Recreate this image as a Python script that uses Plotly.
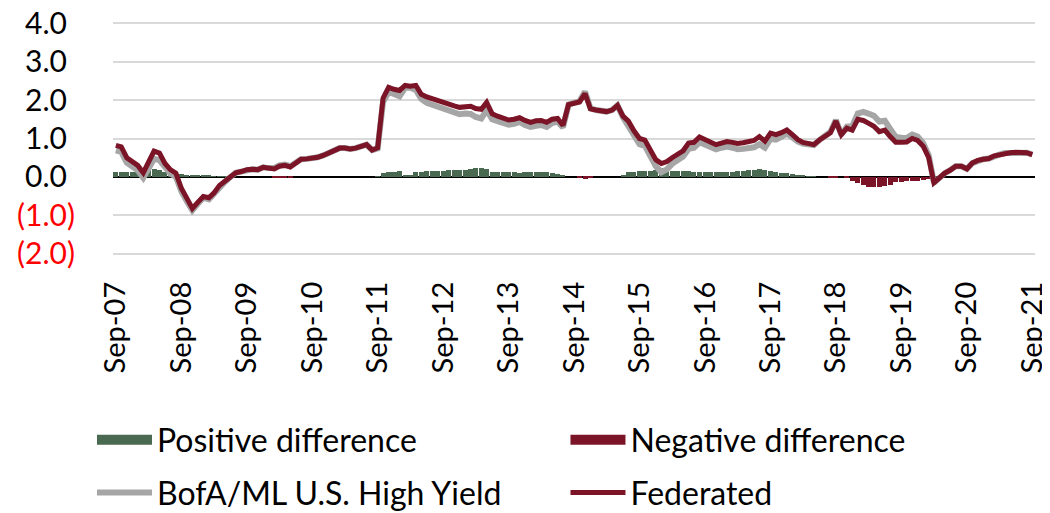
import plotly.graph_objects as go
import pandas as pd

# monthly observations, Sep-07 .. Sep-21
federated = [
    0.82, 0.78, 0.50, 0.40, 0.30, 0.11, 0.38, 0.67, 0.62, 0.35, 0.19, 0.10,
    -0.30, -0.58, -0.82, -0.66, -0.51, -0.54, -0.42, -0.22, -0.12, 0.00, 0.11, 0.14,
    0.19, 0.20, 0.19, 0.25, 0.23, 0.21, 0.28, 0.30, 0.26, 0.37, 0.46, 0.47,
    0.48, 0.51, 0.56, 0.62, 0.70, 0.75, 0.75, 0.73, 0.75, 0.78, 0.84, 0.70,
    0.76, 2.05, 2.33, 2.28, 2.25, 2.38, 2.36, 2.38, 2.15, 2.08, 2.03, 1.98,
    1.92, 1.88, 1.85, 1.81, 1.83, 1.84, 1.78, 1.76, 1.94, 1.64, 1.58, 1.53,
    1.48, 1.50, 1.54, 1.47, 1.42, 1.46, 1.47, 1.42, 1.50, 1.52, 1.34, 1.88,
    1.92, 1.95, 2.17, 1.77, 1.74, 1.72, 1.70, 1.74, 1.86, 1.58, 1.45, 1.20,
    1.00, 0.96, 0.70, 0.45, 0.35, 0.40, 0.50, 0.58, 0.68, 0.88, 0.90, 1.04,
    0.97, 0.88, 0.84, 0.88, 0.92, 0.90, 0.87, 0.89, 0.91, 0.95, 1.05, 0.93,
    1.14, 1.10, 1.15, 1.22, 1.10, 0.97, 0.90, 0.86, 0.84, 0.96, 1.05, 1.15,
    1.45, 1.10, 1.27, 1.22, 1.50, 1.47, 1.40, 1.32, 1.18, 1.22, 1.05, 0.90,
    0.90, 0.91, 1.00, 0.95, 0.80, 0.50, -0.15, 0.00, 0.10, 0.18, 0.28, 0.28,
    0.21, 0.36, 0.43, 0.46, 0.48, 0.55, 0.58, 0.62, 0.63, 0.64, 0.64, 0.63,
    0.58,
]

bofa_hy = [
    0.69, 0.65, 0.37, 0.27, 0.17, -0.02, 0.20, 0.47, 0.44, 0.23, 0.09, 0.00,
    -0.38, -0.63, -0.87, -0.70, -0.54, -0.58, -0.44, -0.24, -0.13, 0.00, 0.11, 0.14,
    0.19, 0.20, 0.19, 0.25, 0.23, 0.23, 0.30, 0.32, 0.28, 0.37, 0.46, 0.47,
    0.48, 0.51, 0.56, 0.62, 0.70, 0.75, 0.75, 0.73, 0.75, 0.78, 0.84, 0.70,
    0.74, 1.95, 2.21, 2.16, 2.10, 2.32, 2.32, 2.26, 2.03, 1.93, 1.88, 1.82,
    1.76, 1.71, 1.68, 1.63, 1.65, 1.64, 1.56, 1.52, 1.74, 1.50, 1.45, 1.41,
    1.36, 1.38, 1.43, 1.35, 1.30, 1.33, 1.35, 1.30, 1.40, 1.44, 1.29, 1.88,
    1.92, 1.97, 2.22, 1.79, 1.74, 1.72, 1.70, 1.74, 1.86, 1.55, 1.33, 1.06,
    0.85, 0.81, 0.54, 0.28, 0.12, 0.20, 0.34, 0.42, 0.53, 0.73, 0.76, 0.90,
    0.84, 0.75, 0.72, 0.76, 0.79, 0.76, 0.72, 0.73, 0.74, 0.77, 0.85, 0.76,
    0.99, 0.97, 1.04, 1.13, 1.03, 0.92, 0.87, 0.84, 0.83, 0.96, 1.05, 1.17,
    1.48, 1.10, 1.31, 1.32, 1.65, 1.69, 1.65, 1.59, 1.44, 1.46, 1.25, 1.04,
    1.02, 1.01, 1.10, 1.05, 0.88, 0.56, -0.15, 0.00, 0.10, 0.18, 0.28, 0.28,
    0.21, 0.36, 0.43, 0.46, 0.48, 0.55, 0.58, 0.62, 0.63, 0.64, 0.64, 0.63,
    0.58,
]

tick_years = list(range(2007, 2022))
y_ticks = [4, 3, 2, 1, 0, -1, -2]

dates = pd.date_range("2007-09-01", periods=len(federated), freq="MS")
diff = [f - b for f, b in zip(federated, bofa_hy)]
pos_diff = [d if d > 0 else 0 for d in diff]
neg_diff = [d if d < 0 else 0 for d in diff]

GREEN = "#4a6951"
RED = "#7b1426"
GREY = "#a6a6a6"
FONT = "Lato"
FS = 30

fig = go.Figure()
fig.add_trace(go.Bar(x=dates, y=pos_diff, showlegend=False,
                     marker=dict(color=GREEN, line=dict(width=0))))
fig.add_trace(go.Bar(x=dates, y=neg_diff, showlegend=False,
                     marker=dict(color=RED, line=dict(width=0))))
fig.add_trace(go.Scatter(x=dates, y=bofa_hy, name="BofA/ML U.S. High Yield",
                         mode="lines", line=dict(color=GREY, width=6),
                         legend="legend3"))
fig.add_trace(go.Scatter(x=dates, y=federated, name="Federated",
                         mode="lines", line=dict(color=RED, width=5),
                         legend="legend4"))
# legend keys for the bars (thick swatches)
fig.add_trace(go.Scatter(x=[None], y=[None], name="Positive difference",
                         mode="lines", line=dict(color=GREEN, width=18),
                         legend="legend"))
fig.add_trace(go.Scatter(x=[None], y=[None], name="Negative difference",
                         mode="lines", line=dict(color=RED, width=18),
                         legend="legend2"))

def ylabel(v):
    if v < 0:
        return "<span style='color:#ff0000'>(%.1f)</span>" % abs(v)
    return "%.1f<span style='color:rgba(0,0,0,0)'>)</span>" % v

leg = dict(orientation="h", xref="container", yref="container",
           xanchor="left", yanchor="middle", itemwidth=55,
           font=dict(size=32), bgcolor="rgba(0,0,0,0)")
col1, col2 = 0.0806, 0.535
row1, row2 = 0.1446, 0.040

# page body keeps an 8px margin, so the figure is 8px smaller than the window
fig.update_layout(
    width=1042, height=505,
    margin=dict(l=105, r=15, t=14, b=258),
    plot_bgcolor="white", paper_bgcolor="white",
    font=dict(family=FONT, size=FS, color="#000000"),
    barmode="relative", bargap=0,
    showlegend=True,
    legend=dict(leg, x=col1, y=row1),
    legend2=dict(leg, x=col2, y=row1),
    legend3=dict(leg, x=col1, y=row2),
    legend4=dict(leg, x=col2, y=row2),
)
fig.update_xaxes(
    type="date", automargin=False, ticklabeloverflow="allow",
    range=[pd.Timestamp("2007-08-16"), pd.Timestamp("2021-09-16")],
    tickvals=[pd.Timestamp("%d-09-01" % y) for y in tick_years],
    ticktext=["Sep-%02d" % (y % 100) for y in tick_years],
    tickangle=-90, showgrid=False, zeroline=False, showline=False,
    ticks="", ticklabelstandoff=20, tickfont=dict(size=29),
)
fig.update_yaxes(
    range=[-2.03, 4.03], automargin=False, ticklabeloverflow="allow",
    tickvals=y_ticks, ticktext=[ylabel(v) for v in y_ticks],
    showgrid=True, gridcolor="#d9d9d9", gridwidth=1.5,
    zeroline=True, zerolinecolor="#000000", zerolinewidth=1.5,
    ticks="", ticklabelstandoff=37, tickfont=dict(size=FS),
)

fig.write_html("out.html")
